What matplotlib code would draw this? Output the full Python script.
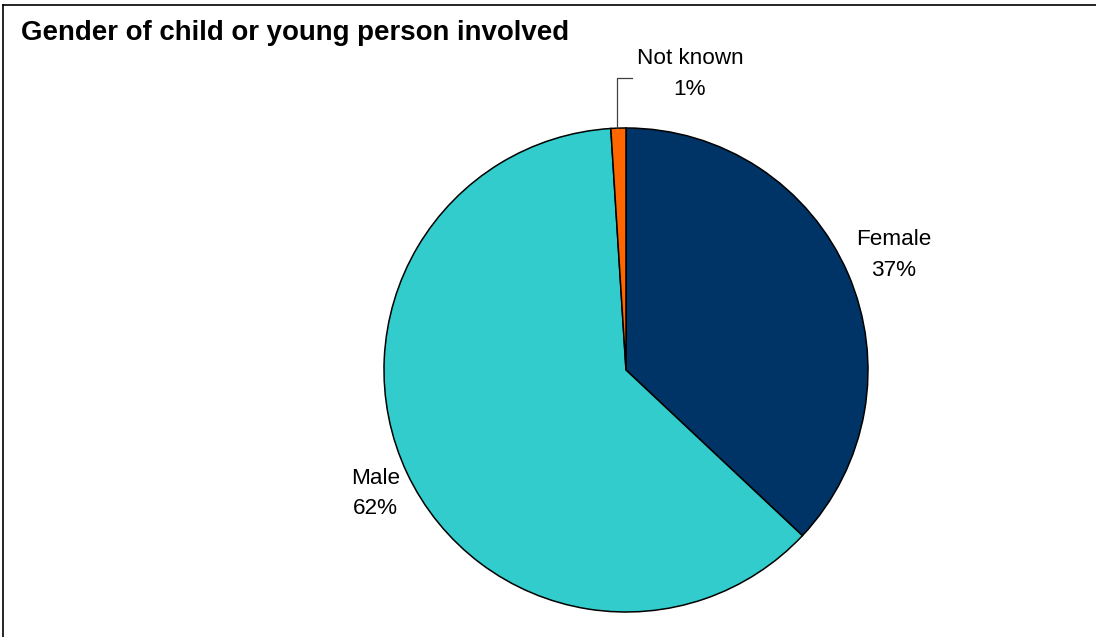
import matplotlib.pyplot as plt
from matplotlib.lines import Line2D

plt.rcParams['font.family'] = ['Liberation Sans', 'DejaVu Sans']

# Share of children and young people by gender
categories = ['Female', 'Male', 'Not known']
shares = [37, 62, 1]
colours = ['#003366', '#33CCCC', '#FF6600']

fig = plt.figure(figsize=(10.96, 6.37), dpi=100)

# outer chart frame (only top and left edges fall inside the image)
fig.add_artist(Line2D([3 / 1096, 3 / 1096], [0, 1 - 5 / 637], transform=fig.transFigure,
                      color='black', lw=1.2))
fig.add_artist(Line2D([3 / 1096, 1], [1 - 5 / 637, 1 - 5 / 637], transform=fig.transFigure,
                      color='black', lw=1.2))

fig.text(21 / 1096, 1 - 33 / 637, 'Gender of child or young person involved',
         fontsize=19.9, fontweight='bold', ha='left', va='center')

ax = fig.add_axes([384 / 1096, 25 / 637, 484 / 1096, 484 / 637])
ax.pie(shares, colors=colours, startangle=90, counterclock=False, radius=1,
       wedgeprops=dict(edgecolor='black', linewidth=1.1, clip_on=False))
ax.set_xlim(-1, 1)
ax.set_ylim(-1, 1)
ax.set_aspect('equal')
ax.axis('off')

# category labels with percentages
label_pos = {'Female': (1.105, 0.475), 'Male': (-1.035, -0.51), 'Not known': (0.264, 1.222)}
for name, val in zip(categories, shares):
    x, y = label_pos[name]
    ax.text(x, y, f'{name}\n{val}%', ha='center', va='center', fontsize=16.2,
            linespacing=1.6, clip_on=False)

# leader line for the small slice
ax.plot([-0.037, -0.037, 0.025], [1.0, 1.207, 1.207], color='#404040', lw=0.9, clip_on=False)

fig.savefig('out.png', dpi=100)
